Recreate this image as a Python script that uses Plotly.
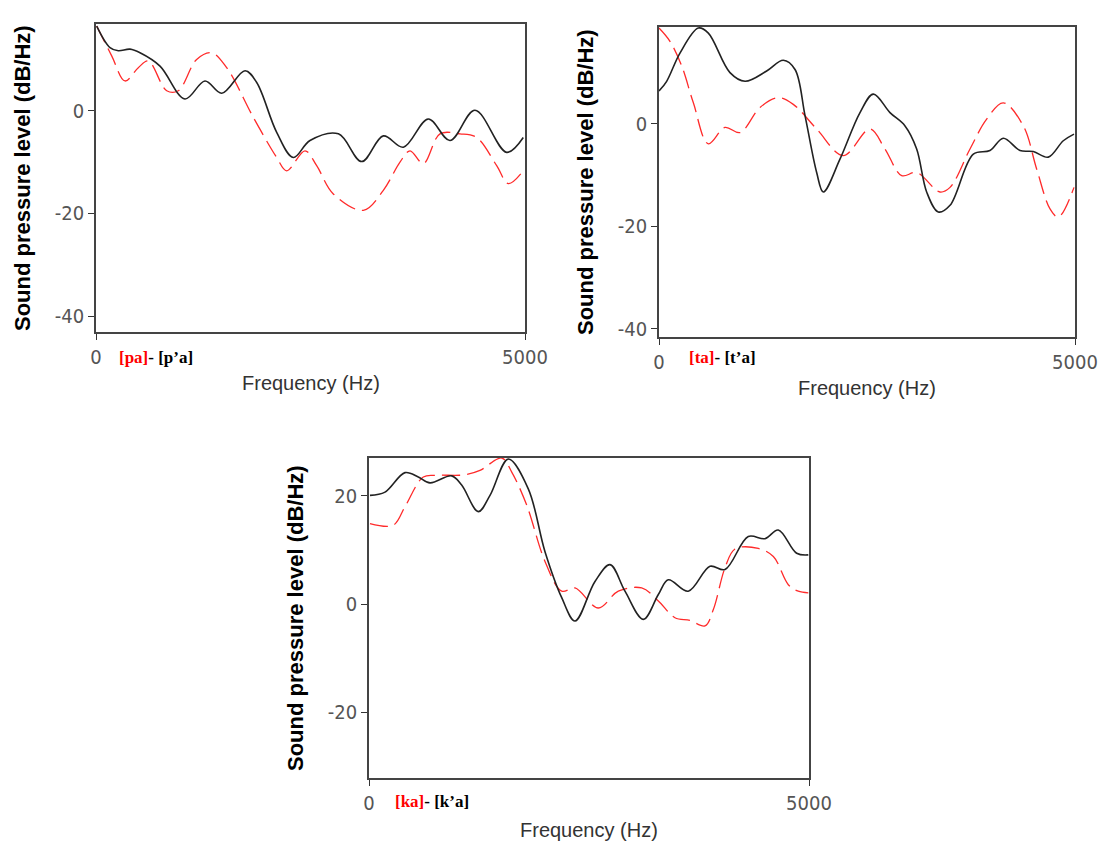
import plotly.graph_objects as go

W, H = 1098, 845

# ---------------- data (Hz, dB/Hz) ----------------
pa_f = [8, 183, 338, 493, 610, 824, 959, 1173, 1348, 1523, 1834, 2106, 2222, 2436, 2572, 2766, 3116, 3349, 3543, 3660, 3815, 4009, 4242, 4436, 4670, 4806, 4980]
pa_db = [16.5, 10.7, 5.8, 8.4, 9.7, 3.9, 3.9, 10.0, 11.3, 8.4, -1.3, -9.1, -11.7, -7.8, -10.7, -16.2, -19.4, -15.5, -10.0, -7.8, -10.3, -4.5, -4.5, -5.2, -10.7, -14.2, -11.7]
pha_f = [8, 163, 260, 396, 513, 746, 1037, 1270, 1465, 1737, 1873, 2106, 2300, 2494, 2825, 3097, 3349, 3582, 3873, 4126, 4417, 4786, 4980]
pha_db = [16.5, 12.3, 11.7, 12.0, 11.3, 8.7, 2.3, 5.8, 3.4, 7.8, 5.5, -4.2, -9.1, -5.8, -4.5, -9.9, -4.9, -7.1, -1.6, -5.8, 0.1, -8.1, -5.2]

ta_f = [0, 132, 273, 413, 593, 793, 974, 1214, 1434, 1614, 1895, 2215, 2536, 2716, 2917, 3097, 3377, 3498, 3738, 3938, 4138, 4379, 4539, 4700, 4800, 4988]
ta_db = [18.7, 16.1, 11.3, 4.1, -3.9, -0.7, -1.7, 3.2, 5.1, 3.8, -1.0, -6.2, -1.0, -4.9, -10.1, -9.5, -13.3, -12.4, -4.9, 0.9, 4.1, -0.4, -8.8, -16.6, -18.2, -12.4]
tha_f = [0, 92, 252, 473, 593, 853, 1034, 1294, 1494, 1635, 1755, 1895, 1975, 2175, 2416, 2576, 2776, 2957, 3097, 3217, 3357, 3498, 3778, 3978, 4138, 4339, 4499, 4679, 4859, 4988]
tha_db = [6.4, 8.3, 13.8, 18.7, 17.7, 10.0, 8.3, 10.3, 12.4, 10.6, 1.6, -9.5, -13.3, -6.9, 2.2, 5.8, 2.2, -0.4, -4.9, -13.3, -17.2, -15.9, -5.9, -5.2, -2.8, -5.2, -5.4, -6.5, -3.3, -2.0]

ka_f = [11, 276, 409, 617, 769, 1091, 1261, 1508, 1622, 1792, 2000, 2190, 2341, 2606, 2833, 3099, 3288, 3477, 3648, 3818, 3913, 4045, 4159, 4424, 4595, 4765, 4878, 4992]
ka_db = [14.9, 14.6, 18.0, 23.5, 23.8, 23.9, 24.7, 27.0, 24.4, 18.3, 7.9, 2.4, 3.0, -0.7, 2.4, 3.0, 0.6, -2.5, -3.0, -4.0, -1.0, 6.7, 10.2, 10.3, 8.8, 3.6, 2.4, 2.1]
kha_f = [11, 182, 409, 560, 693, 940, 1053, 1242, 1375, 1583, 1810, 2000, 2190, 2341, 2568, 2739, 2909, 3117, 3288, 3401, 3628, 3875, 4045, 4310, 4500, 4651, 4860, 4992]
kha_db = [20.1, 20.7, 24.3, 23.5, 22.4, 23.7, 22.0, 17.1, 20.1, 26.8, 21.3, 9.7, 1.2, -3.1, 4.2, 7.3, 2.4, -2.8, 1.8, 4.5, 2.4, 7.0, 6.4, 12.5, 12.1, 13.7, 9.4, 9.1]

x_ticks = [0, 5000]
x_ticktext = ["0", "5000"]
y_ticks_12 = [-40, -20, 0]
y_ticktext_12 = ["-40", "-20", "0"]
y_ticks_3 = [-20, 0, 20]
y_ticktext_3 = ["-20", "0", "20"]
x_title = "Frequency (Hz)"
y_title = "Sound pressure level (dB/Hz)"
labels = [("[pa]", "[p\u2019a]"), ("[ta]", "[t\u2019a]"), ("[ka]", "[k\u2019a]")]

# ---------------- layout geometry (page pixels) ----------------
panels = [
    dict(x0=96, x1=525, y0=24, y1=332, yr=[-43.1, 16.9], yt=y_ticks_12, ytt=y_ticktext_12,
         red=(pa_f, pa_db), blk=(pha_f, pha_db), ytx=22, xty=383, lab=(117, 357)),
    dict(x0=659, x1=1075, y0=27, y1=337, yr=[-41.6, 18.9], yt=y_ticks_12, ytt=y_ticktext_12,
         red=(ta_f, ta_db), blk=(tha_f, tha_db), ytx=585, xty=388, lab=(687, 357)),
    dict(x0=369, x1=809, y0=458, y1=778, yr=[-32.1, 27.0], yt=y_ticks_3, ytt=y_ticktext_3,
         red=(ka_f, ka_db), blk=(kha_f, kha_db), ytx=295, xty=830, lab=(393, 801)),
]

def px(x):
    return x / W

def py(y):
    return 1 - y / H

fig = go.Figure()
tick_font = dict(family="DejaVu Sans Condensed, Liberation Sans Narrow, Arial Narrow, sans-serif", size=20, color="#555555")
annotations = []

for i, p in enumerate(panels):
    n = "" if i == 0 else str(i + 1)
    xa, ya = "x" + n, "y" + n
    fig.add_trace(go.Scatter(x=p["red"][0], y=p["red"][1], mode="lines", xaxis=xa, yaxis=ya,
                             line=dict(color="#ff2a2a", width=1.3, dash="18px,7px", shape="spline", smoothing=1.0),
                             showlegend=False, hoverinfo="skip"))
    fig.add_trace(go.Scatter(x=p["blk"][0], y=p["blk"][1], mode="lines", xaxis=xa, yaxis=ya,
                             line=dict(color="#222222", width=1.6, shape="spline", smoothing=1.0),
                             showlegend=False, hoverinfo="skip"))
    fig.layout["xaxis" + n] = dict(
        domain=[px(p["x0"]), px(p["x1"])], anchor=ya, range=[0, 5000], automargin=False,
        tickvals=x_ticks, ticktext=x_ticktext, ticks="outside", ticklen=6, tickcolor="#333",
        ticklabeloverflow="allow",
        showline=True, linecolor="#444444", linewidth=1.5, mirror=True,
        showgrid=False, zeroline=False, tickfont=tick_font, fixedrange=True)
    fig.layout["yaxis" + n] = dict(
        domain=[py(p["y1"]), py(p["y0"])], anchor=xa, range=p["yr"], automargin=False,
        tickvals=p["yt"], ticktext=p["ytt"], ticks="outside", ticklen=6, tickcolor="#333",
        ticklabeloverflow="allow",
        showline=True, linecolor="#444444", linewidth=1.5, mirror=True,
        showgrid=False, zeroline=False, tickfont=tick_font, fixedrange=True)
    # axis titles
    annotations.append(dict(text=x_title, xref="paper", yref="paper",
                            x=px((p["x0"] + p["x1"]) / 2), y=py(p["xty"]),
                            xanchor="center", yanchor="middle", showarrow=False,
                            font=dict(family="Liberation Sans, Arial, sans-serif", size=20, color="#333333")))
    annotations.append(dict(text="<b>" + y_title + "</b>", xref="paper", yref="paper",
                            x=px(p["ytx"]), y=py((p["y0"] + p["y1"]) / 2), textangle=-90,
                            xanchor="center", yanchor="middle", showarrow=False,
                            font=dict(family="Liberation Sans, Arial, sans-serif", size=22, color="#000000")))
    r, b = labels[i]
    annotations.append(dict(text="<b><span style='color:#ff0000'>" + r + "</span>- " + b + "</b>",
                            xref="paper", yref="paper", x=px(p["lab"][0]), y=py(p["lab"][1]),
                            xanchor="left", yanchor="middle", showarrow=False,
                            font=dict(family="Liberation Serif, Times New Roman, serif", size=17, color="#000000")))

fig.update_layout(width=W, height=H, margin=dict(l=0, r=0, t=0, b=0),
                  paper_bgcolor="white", plot_bgcolor="white", annotations=annotations)

# remove the default 8px page margin so the figure fills the window exactly
fig.write_html("out.html", config={"displayModeBar": False},
               post_script="document.body.style.margin='0';document.body.style.overflow='hidden';")
